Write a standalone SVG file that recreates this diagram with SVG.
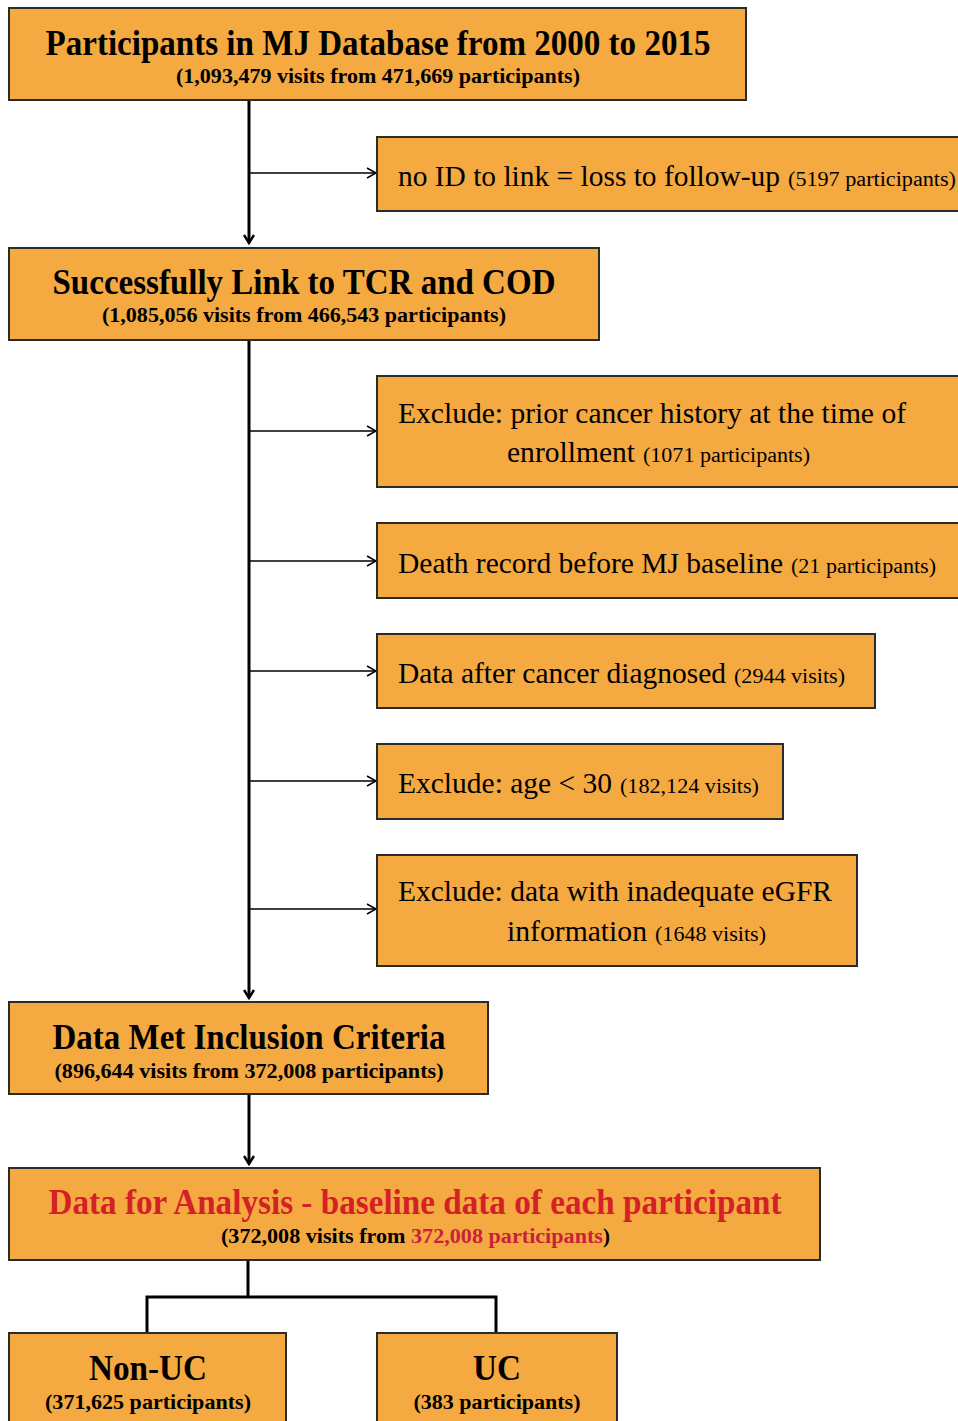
<svg xmlns="http://www.w3.org/2000/svg" width="958" height="1421" viewBox="0 0 958 1421" font-family="Liberation Serif, Times New Roman, serif">
<style>
.box{fill:#F5A941;stroke:#2b2b2b;stroke-width:2}
.t{fill:#000}
.h{font-weight:bold;font-size:35px}
.s{font-weight:bold;font-size:21px}
.n{font-size:29px}
.p{font-size:20px}
.red{fill:#D42027}
.red2{fill:#C9213A}
.ln{fill:none;stroke:#000;stroke-width:3}
.br{fill:none;stroke:#000;stroke-width:1.5}
</style>
<defs>
<marker id="ah" markerWidth="12" markerHeight="12" refX="9" refY="6" orient="auto" markerUnits="userSpaceOnUse" viewBox="0 0 12 12">
<path d="M1,1 L9,6 L1,11" fill="none" stroke="#000" stroke-width="2.5"/>
</marker>
<marker id="as" markerWidth="14" markerHeight="12" refX="12" refY="6" orient="auto" markerUnits="userSpaceOnUse" viewBox="0 0 14 12">
<path d="M3,1 L12,6 L3,11" fill="none" stroke="#000" stroke-width="1.5"/>
</marker>
</defs>
<g id="connectors">
<line class="ln" x1="249" y1="100" x2="249" y2="243" marker-end="url(#ah)"/>
<line class="br" x1="249" y1="173" x2="376" y2="173" marker-end="url(#as)"/>
<line class="ln" x1="249" y1="340" x2="249" y2="998" marker-end="url(#ah)"/>
<line class="br" x1="249" y1="431" x2="376" y2="431" marker-end="url(#as)"/>
<line class="br" x1="249" y1="561" x2="376" y2="561" marker-end="url(#as)"/>
<line class="br" x1="249" y1="671" x2="376" y2="671" marker-end="url(#as)"/>
<line class="br" x1="249" y1="781" x2="376" y2="781" marker-end="url(#as)"/>
<line class="br" x1="249" y1="909" x2="376" y2="909" marker-end="url(#as)"/>
<line class="ln" x1="249" y1="1094" x2="249" y2="1164" marker-end="url(#ah)"/>
<polyline class="ln" points="248,1260 248,1297"/>
<polyline class="ln" points="147,1333 147,1297 496,1297 496,1333"/>
</g>
<g id="n1">
<rect class="box" x="9" y="8" width="737" height="92"/>
<text class="t h" x="378" y="55" text-anchor="middle" textLength="665" lengthAdjust="spacingAndGlyphs">Participants in MJ Database from 2000 to 2015</text>
<text class="t s" x="378" y="83" text-anchor="middle" textLength="404" lengthAdjust="spacingAndGlyphs">(1,093,479 visits from 471,669 participants)</text>
</g>
<g id="n2">
<rect class="box" x="377" y="137" width="590" height="74"/>
<text class="t n" x="398" y="186"><tspan textLength="382" lengthAdjust="spacingAndGlyphs">no ID to link = loss to follow-up</tspan><tspan class="p" dx="8" textLength="168" lengthAdjust="spacingAndGlyphs">(5197 participants)</tspan></text>
</g>
<g id="n3">
<rect class="box" x="9" y="248" width="590" height="92"/>
<text class="t h" x="304" y="294" text-anchor="middle" textLength="503" lengthAdjust="spacingAndGlyphs">Successfully Link to TCR and COD</text>
<text class="t s" x="304" y="322" text-anchor="middle" textLength="404" lengthAdjust="spacingAndGlyphs">(1,085,056 visits from 466,543 participants)</text>
</g>
<g id="n4">
<rect class="box" x="377" y="376" width="590" height="111"/>
<text class="t n" x="398" y="423" textLength="508" lengthAdjust="spacingAndGlyphs">Exclude: prior cancer history at the time of</text>
<text class="t n" x="507" y="462"><tspan textLength="128" lengthAdjust="spacingAndGlyphs">enrollment</tspan><tspan class="p" dx="8" textLength="167" lengthAdjust="spacingAndGlyphs">(1071 participants)</tspan></text>
</g>
<g id="n5">
<rect class="box" x="377" y="523" width="590" height="75"/>
<text class="t n" x="398" y="573"><tspan textLength="385" lengthAdjust="spacingAndGlyphs">Death record before MJ baseline</tspan><tspan class="p" dx="8" textLength="145" lengthAdjust="spacingAndGlyphs">(21 participants)</tspan></text>
</g>
<g id="n6">
<rect class="box" x="377" y="634" width="498" height="74"/>
<text class="t n" x="398" y="683"><tspan textLength="328" lengthAdjust="spacingAndGlyphs">Data after cancer diagnosed</tspan><tspan class="p" dx="8" textLength="111" lengthAdjust="spacingAndGlyphs">(2944 visits)</tspan></text>
</g>
<g id="n7">
<rect class="box" x="377" y="744" width="406" height="75"/>
<text class="t n" x="398" y="793"><tspan textLength="214" lengthAdjust="spacingAndGlyphs">Exclude: age &lt; 30</tspan><tspan class="p" dx="8" textLength="139" lengthAdjust="spacingAndGlyphs">(182,124 visits)</tspan></text>
</g>
<g id="n8">
<rect class="box" x="377" y="855" width="480" height="111"/>
<text class="t n" x="398" y="901" textLength="434" lengthAdjust="spacingAndGlyphs">Exclude: data with inadequate eGFR</text>
<text class="t n" x="507" y="941"><tspan textLength="140" lengthAdjust="spacingAndGlyphs">information</tspan><tspan class="p" dx="8" textLength="111" lengthAdjust="spacingAndGlyphs">(1648 visits)</tspan></text>
</g>
<g id="n9">
<rect class="box" x="9" y="1002" width="479" height="92"/>
<text class="t h" x="249" y="1049" text-anchor="middle" textLength="393" lengthAdjust="spacingAndGlyphs">Data Met Inclusion Criteria</text>
<text class="t s" x="249" y="1078" text-anchor="middle" textLength="389" lengthAdjust="spacingAndGlyphs">(896,644 visits from 372,008 participants)</text>
</g>
<g id="n10">
<rect class="box" x="9" y="1168" width="811" height="92"/>
<text class="t h red" x="415" y="1214" text-anchor="middle" textLength="733" lengthAdjust="spacingAndGlyphs">Data for Analysis - baseline data of each participant</text>
<text class="t s" x="221" y="1243"><tspan textLength="190" lengthAdjust="spacingAndGlyphs">(372,008 visits from </tspan><tspan class="red2" textLength="192" lengthAdjust="spacingAndGlyphs">372,008 participants</tspan><tspan>)</tspan></text>
</g>
<g id="n11">
<rect class="box" x="9" y="1333" width="277" height="100"/>
<text class="t h" x="148" y="1380" text-anchor="middle" textLength="118" lengthAdjust="spacingAndGlyphs">Non-UC</text>
<text class="t s" x="148" y="1409" text-anchor="middle" textLength="206" lengthAdjust="spacingAndGlyphs">(371,625 participants)</text>
</g>
<g id="n12">
<rect class="box" x="377" y="1333" width="240" height="100"/>
<text class="t h" x="497" y="1380" text-anchor="middle" textLength="48" lengthAdjust="spacingAndGlyphs">UC</text>
<text class="t s" x="497" y="1409" text-anchor="middle" textLength="167" lengthAdjust="spacingAndGlyphs">(383 participants)</text>
</g>
</svg>
